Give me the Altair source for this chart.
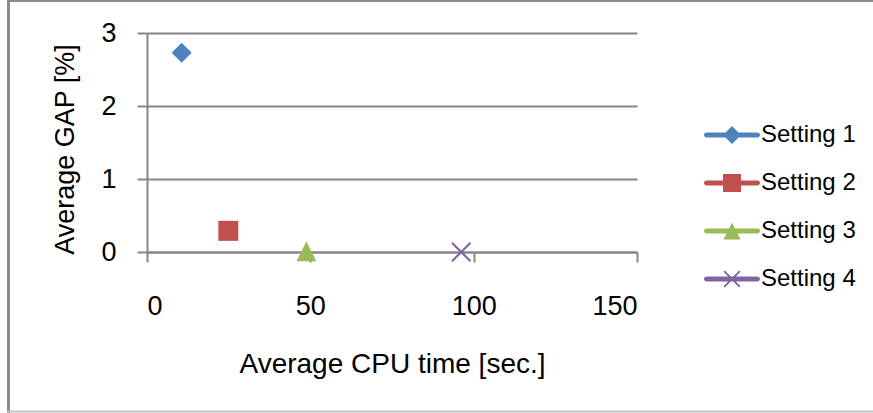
import altair as alt
import pandas as pd

settings = ["Setting 1", "Setting 2", "Setting 3", "Setting 4"]
cpu_time = [10.6, 24.9, 48.8, 96.2]
gap = [2.73, 0.29, 0.01, 0.0]
x_ticks = [0, 50, 100, 150]
y_ticks = [0, 1, 2, 3]
colors = ["#4F81BD", "#C0504D", "#9BBB59", "#8064A2"]

plot_shapes = [
    "M0,-1L1,0L0,1L-1,0Z",
    "M-1,-1L1,-1L1,1L-1,1Z",
    "M0,-1L1,1L-1,1Z",
    "M0,-0.15L0.85,-1L1,-0.85L0.15,0L1,0.85L0.85,1L0,0.15L-0.85,1L-1,0.85L-0.15,0L-1,-0.85L-0.85,-1Z",
]
line = "M-2.55,-0.25L2.55,-0.25A0.25,0.25 0 0 1 2.55,0.25L-2.55,0.25A0.25,0.25 0 0 1 -2.55,-0.25Z"
legend_shapes = [
    line + "M0,-0.9L0.9,0L0,0.9L-0.9,0Z",
    line + "M-0.9,-0.9L0.9,-0.9L0.9,0.9L-0.9,0.9Z",
    line + "M0,-0.85L0.85,0.85L-0.85,0.85Z",
    line + "M0,-0.13L0.72,-0.85L0.85,-0.72L0.13,0L0.85,0.72L0.72,0.85L0,0.13L-0.72,0.85L-0.85,0.72L-0.13,0L-0.85,-0.72L-0.72,-0.85Z",
]

df = pd.DataFrame({"setting": settings, "cpu": cpu_time, "gap": gap})

FONT = "Liberation Sans"
GRAY = "#868686"

x_enc = alt.X(
    "cpu:Q",
    scale=alt.Scale(domain=[0, 150], nice=False, zero=False),
    axis=alt.Axis(
        values=x_ticks, format="d", title="Average CPU time [sec.]", grid=False,
        domainColor=GRAY, domainWidth=2, tickColor=GRAY, tickWidth=2, tickSize=10,
        labelFont=FONT, labelFontSize=27, labelColor="#000000", labelPadding=31,
        titleFont=FONT, titleFontSize=28, titleFontWeight="normal", titleColor="#000000",
        titleBaseline="alphabetic", titleY=120, titleX=245,
    ),
)
y_enc = alt.Y(
    "gap:Q",
    scale=alt.Scale(domain=[0, 3], nice=False, zero=False),
    axis=alt.Axis(
        values=y_ticks, format="d", title="Average GAP [%]", grid=True,
        gridColor=GRAY, gridWidth=2,
        domainColor=GRAY, domainWidth=2, tickColor=GRAY, tickWidth=2, tickSize=10,
        labelFont=FONT, labelFontSize=27, labelColor="#000000", labelPadding=21,
        titleFont=FONT, titleFontSize=27, titleFontWeight="normal", titleColor="#000000",
        titleBaseline="alphabetic", titleX=-74, titleY=116, titleAngle=270,
    ),
)

points = alt.Chart(df).mark_point(filled=True, size=400, opacity=1, strokeWidth=0).encode(
    x=x_enc,
    y=y_enc,
    color=alt.Color("setting:N", scale=alt.Scale(domain=settings, range=colors), legend=None),
    shape=alt.Shape("setting:N", scale=alt.Scale(domain=settings, range=plot_shapes), legend=None),
)

legend_props = dict(
    title=None, orient="none", legendX=573, legendY=90, padding=0,
    symbolSize=400, symbolStrokeWidth=0, labelOffset=17, rowPadding=24,
    labelFont=FONT, labelFontSize=24, labelColor="#000000",
)

legend_layer = alt.Chart(df).transform_filter("false").mark_point(
    filled=True, size=400, opacity=1, strokeWidth=0
).encode(
    x=alt.X("cpu:Q"),
    y=alt.Y("gap:Q"),
    color=alt.Color(
        "setting:N", scale=alt.Scale(domain=settings, range=colors),
        legend=alt.Legend(**legend_props),
    ),
    shape=alt.Shape(
        "setting:N", scale=alt.Scale(domain=settings, range=legend_shapes),
        legend=alt.Legend(**legend_props),
    ),
)

frame = pd.DataFrame({"k": [0]})
border_left = alt.Chart(frame).mark_rule(color="#8a8a8a", strokeWidth=3).encode(
    x=alt.value(-138.5), y=alt.value(-33), y2=alt.value(380)
)
border_top = alt.Chart(frame).mark_rule(color="#8a8a8a", strokeWidth=2).encode(
    x=alt.value(-140), x2=alt.value(726), y=alt.value(-32)
)
border_bottom = alt.Chart(frame).mark_rule(color="#c4c4c4", strokeWidth=2).encode(
    x=alt.value(-140), x2=alt.value(726), y=alt.value(378.5)
)

chart = alt.layer(border_left, border_top, border_bottom, points, legend_layer).resolve_scale(
    color="independent", shape="independent"
).properties(
    width=490, height=219,
    autosize=alt.AutoSizeParams(type="none"),
    padding={"left": 147, "top": 33, "right": 236, "bottom": 161},
    background="#ffffff",
).configure_view(stroke=None)

chart.save("out.html", embed_options={"renderer": "svg", "actions": False})
